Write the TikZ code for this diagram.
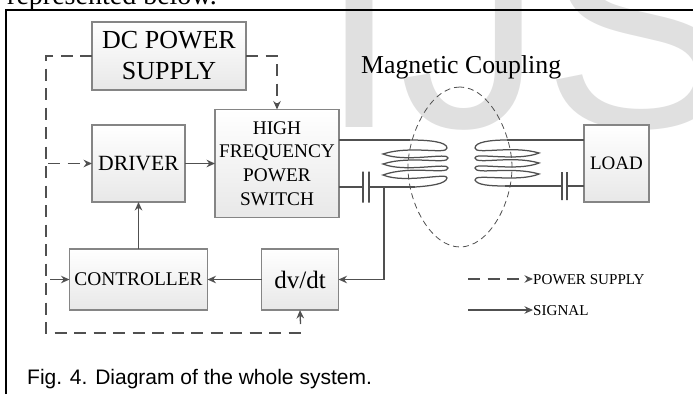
\documentclass[tikz,border=0pt]{standalone}
\usepackage{fontspec}
\setmainfont{Liberation Serif}
\newfontfamily\capfont{Liberation Sans}
\usetikzlibrary{positioning, arrows.meta}
\definecolor{wmgray}{HTML}{E0E0E0}
\definecolor{linegray}{HTML}{505050}
\definecolor{boxedge}{HTML}{858585}
\definecolor{boxlow}{HTML}{E8E8E8}
\begin{document}
\begin{tikzpicture}[x=1pt, y=-1pt,
          blk/.style={draw=boxedge, line width=1.1pt, top color=white, bottom color=boxlow, text=black, align=center, inner sep=0pt, outer sep=0pt},
          sig/.style={draw=linegray, line width=1.3pt},
          sigto/.style={sig, -{Stealth[length=8.5pt,width=7.5pt]}},
          pwr/.style={draw=linegray, line width=1.3pt, dash pattern=on 12pt off 7.5pt},
          pwrto/.style={pwr, -{Stealth[length=8.5pt,width=7.5pt]}},
          coil/.style={draw=linegray, line width=1.25pt},
          plate/.style={draw=linegray, line width=1.3pt, inner sep=0pt, outer sep=0pt, minimum width=0pt}]
        \useasboundingbox (0,0) rectangle (693,394);
        \clip (0,0) rectangle (693,394);
        % watermark and page text
        \node[anchor=base west, inner sep=0pt, text=wmgray, font=\capfont\fontsize{288}{288}\selectfont] (mark) at (319,127) {IJS};
        \node[anchor=base west, inner sep=0pt, font=\fontsize{28}{28}\selectfont] (above) at (7,4) {represented below.};
        \draw[black, line width=2pt] (6,394) -- (6,10) -- (693,10);
        \node[anchor=base west, inner sep=0pt, font=\capfont\fontsize{21}{21}\selectfont] (caption) at (27,384) {Fig. 4. Diagram of the whole system.};
        % blocks
        \node[blk, minimum width=154pt, minimum height=68pt, font=\fontsize{26}{31}\selectfont] (dc) at (169,56) {DC POWER\\SUPPLY};
        \node[blk, minimum width=93pt, minimum height=77pt, font=\fontsize{21.7}{26}\selectfont] (driver) at (138.5,163.5) {DRIVER};
        \node[blk, right=30pt of driver, minimum width=124pt, minimum height=108pt, font=\fontsize{19.3}{23.6}\selectfont] (switch) {HIGH\\FREQUENCY\\POWER\\SWITCH};
        \node[blk, below=47pt of driver, minimum width=138pt, minimum height=61pt, font=\fontsize{19.4}{23}\selectfont] (ctrl) {CONTROLLER};
        \node[blk, right=54pt of ctrl, minimum width=77pt, minimum height=61pt, font=\fontsize{25}{30}\selectfont] (dvdt) {dv/dt};
        \node[blk, minimum width=65pt, minimum height=77pt, font=\fontsize{19}{23}\selectfont] (load) at (616.5,163.5) {LOAD};
        \node[anchor=base west, inner sep=0pt, font=\fontsize{25.8}{30}\selectfont] (mag) at (361,73) {Magnetic Coupling};
        % coupling outline
        \draw[linegray, line width=0.8pt, dash pattern=on 6pt off 4pt] (460,87) .. controls (430,87) and (408,135) .. (408,167) .. controls (408,205) and (432,247) .. (460,247) .. controls (488,247) and (512,205) .. (512,167) .. controls (512,135) and (490,87) .. (460,87);
        % capacitors and coil ends
        \node[plate, minimum height=31pt] (cap1a) at (363,187) {};
        \node[plate, minimum height=31pt] (cap1b) at (369,187) {};
        \node[plate, minimum height=28pt] (cap2a) at (562,186) {};
        \node[plate, minimum height=28pt] (cap2b) at (567,186) {};
        \coordinate (lcoilin) at (410,140);
        \coordinate (lcoilout) at (415,187);
        \coordinate (rcoilin) at (507,140);
        \coordinate (rcoilout) at (505,186);
        \coordinate (tap) at (384,187);
        % left coil
        \draw[coil] (lcoilin) .. controls (430,140) and (447,142) .. (447,148)
          .. controls (447,155) and (410,145) .. (383,154) .. controls (405,163) and (449,152) .. (448,158)
          .. controls (448,165) and (410,155) .. (383,164) .. controls (405,173) and (449,162) .. (448,168)
          .. controls (448,175) and (410,165) .. (383,175) .. controls (405,184) and (449,172) .. (447,178)
          .. controls (446,184) and (430,186) .. (lcoilout);
        % right coil
        \draw[coil] (rcoilin) .. controls (490,140) and (475,142) .. (475,148)
          .. controls (475,155) and (512,145) .. (539,153) .. controls (517,162) and (473,152) .. (475,158)
          .. controls (475,165) and (512,155) .. (539,163) .. controls (517,172) and (473,162) .. (475,168)
          .. controls (475,175) and (512,166) .. (539,174) .. controls (517,183) and (473,173) .. (475,180)
          .. controls (477,185) and (490,186) .. (rcoilout);
        % signal lines
        \draw[sigto] (driver) -- (switch);
        \draw[sigto] (ctrl) -- (driver);
        \draw[sigto] (dvdt) -- (ctrl);
        \draw[sig] (switch.east |- lcoilin) -- (lcoilin);
        \draw[sig] (switch.east |- cap1a) -- (cap1a);
        \draw[sig] (cap1b) -- (lcoilout);
        \draw[sigto] (tap) |- (dvdt.east);
        \draw[sig] (rcoilin) -- (load.west |- rcoilin);
        \draw[sig] (rcoilout) -- (cap2a);
        \draw[sig] (cap2b) -- (load.west |- cap2b);
        % power lines
        \coordinate (bustop) at (46,56);
        \coordinate (busdrv) at (48,163.5);
        \coordinate (busctl) at (50,279.5);
        \coordinate (buscorner) at (46,333);
        \coordinate (busend) at (300.5,333);
        \coordinate (busup) at (300.5,324);
        \coordinate (switchdrop) at (277,56);
        \draw[pwr] (dc.west) -- (bustop) -- (buscorner) -- (busend);
        \draw[sigto] (busup) -- (dvdt.south);
        \draw[pwrto] (busdrv) -- (driver.west);
        \draw[sigto] (busctl) -- (ctrl.west);
        \draw[pwrto] (dc.east) -- (switchdrop) -- (switch.north);
        % legend
        \node[anchor=base west, inner sep=0pt, font=\fontsize{15.1}{18}\selectfont] (legp) at (533,284) {POWER SUPPLY};
        \node[anchor=base west, inner sep=0pt, font=\fontsize{15.1}{18}\selectfont] (legs) at (533,315) {SIGNAL};
        \coordinate (legpin) at (468,279);
        \coordinate (legsin) at (468,310);
        \draw[pwrto] (legpin) -- (legpin -| legp.west);
        \draw[sigto] (legsin) -- (legsin -| legs.west);
      \end{tikzpicture}
\end{document}
